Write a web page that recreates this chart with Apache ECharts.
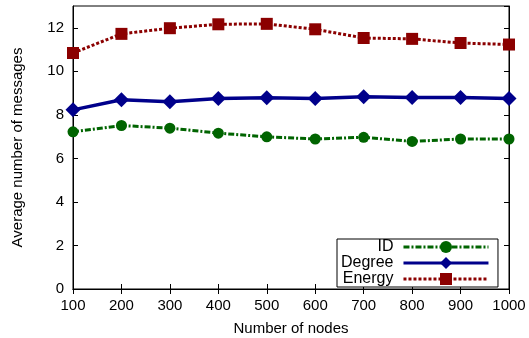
<!DOCTYPE html>
<html><head><meta charset="utf-8">
<script src="https://cdn.jsdelivr.net/npm/echarts@6/dist/echarts.min.js"></script>
<style>html,body{margin:0;padding:0;background:#fff}#c{width:529px;height:338px}</style>
</head><body><div id="c"></div>
<script>
var nodes = [100, 200, 300, 400, 500, 600, 700, 800, 900, 1000];
var idValues = [7.22, 7.51, 7.39, 7.16, 6.99, 6.89, 6.97, 6.78, 6.89, 6.89];
var degreeValues = [8.23, 8.69, 8.60, 8.75, 8.78, 8.75, 8.83, 8.80, 8.80, 8.75];
var energyValues = [10.84, 11.72, 11.98, 12.16, 12.18, 11.93, 11.53, 11.49, 11.30, 11.23];
var seriesNames = ['ID', 'Degree', 'Energy'];

function pairs(v){ return nodes.map(function(n,i){ return [n, v[i]]; }); }
var font = 'Liberation Sans, Arial, sans-serif';
var chart = echarts.init(document.getElementById('c'), null, {renderer:'canvas'});
var tickCommon = {show:true, inside:true, length:5, lineStyle:{color:'#000', width:1}};
chart.setOption({
  animation:false,
  backgroundColor:'#fff',
  grid:{left:73, right:20, top:6, bottom:49, show:true, borderColor:'#000', borderWidth:1,
        backgroundColor:'transparent', containLabel:false, outerBoundsMode:'none'},
  legend:{
    data:seriesNames, orient:'vertical', align:'right', left:337, top:239,
    padding:[0,8,0,4], itemGap:0, itemWidth:85, itemHeight:15,
    lineStyle:{width:3},
    borderColor:'#000', borderWidth:1, backgroundColor:'#fff',
    textStyle:{fontFamily:font, fontSize:16, color:'#000', lineHeight:15, padding:[0,5,0,0]}
  },
  xAxis:[{
    type:'value', min:100, max:1000, interval:100, position:'bottom',
    name:'Number of nodes', nameLocation:'middle', nameGap:32,
    nameTextStyle:{fontFamily:font, fontSize:15, color:'#000'},
    axisLine:{show:true, lineStyle:{color:'#000', width:1}},
    axisTick:tickCommon, splitLine:{show:false},
    axisLabel:{fontFamily:font, fontSize:15, color:'#000', margin:9, formatter:function(v){return String(v);}}
  },{
    type:'value', min:100, max:1000, interval:100, position:'top',
    axisLine:{show:true, lineStyle:{color:'#000'}}, axisTick:tickCommon,
    axisLabel:{show:false}, splitLine:{show:false}
  }],
  yAxis:[{
    type:'value', min:0, max:13, interval:2, position:'left',
    name:'Average number of messages', nameLocation:'middle', nameGap:48,
    nameTextStyle:{fontFamily:font, fontSize:15, color:'#000'},
    axisLine:{show:true, lineStyle:{color:'#000', width:1}},
    axisTick:tickCommon, splitLine:{show:false},
    axisLabel:{fontFamily:font, fontSize:15, color:'#000', margin:9, showMaxLabel:false}
  },{
    type:'value', min:0, max:13, interval:2, position:'right',
    axisLine:{show:true, lineStyle:{color:'#000'}}, axisTick:tickCommon,
    axisLabel:{show:false}, splitLine:{show:false}
  }],
  series:[
    {name:'ID', type:'line', data:pairs(idValues), symbol:'circle', symbolSize:11,
     itemStyle:{color:'#006400'}, lineStyle:{color:'#006400', width:3, type:[6,2,2,2]}},
    {name:'Degree', type:'line', data:pairs(degreeValues), symbol:'diamond', symbolSize:15,
     itemStyle:{color:'#00008b'}, lineStyle:{color:'#00008b', width:3.5, type:'solid'}},
    {name:'Energy', type:'line', data:pairs(energyValues), symbol:'rect', symbolSize:12,
     itemStyle:{color:'#8b0000'}, lineStyle:{color:'#8b0000', width:3, type:[3,2]}}
  ]
});
</script></body></html>
